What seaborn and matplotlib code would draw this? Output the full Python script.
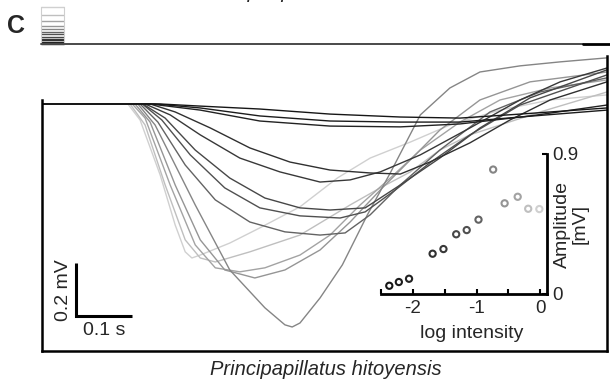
import pandas as pd
import seaborn as sns
import matplotlib.pyplot as plt
from matplotlib.lines import Line2D

# ERG traces: (time in ms, voltage in mV), dimmest flash first
trace_01 = [(0, 0), (212, 0), (284, -0.008), (391, -0.019), (517, -0.038), (643, -0.049),
            (750, -0.053), (858, -0.038), (1014, -0.015)]
trace_02 = [(0, 0), (203, 0), (284, -0.015), (391, -0.045), (517, -0.064), (643, -0.068),
            (750, -0.068), (858, -0.049), (1014, -0.023)]
trace_03 = [(0, 0), (194, 0), (284, -0.023), (391, -0.064), (517, -0.083), (643, -0.086),
            (750, -0.075), (876, -0.045), (1014, -0.004)]
trace_04 = [(0, 0), (194, 0), (239, -0.030), (302, -0.090), (373, -0.165), (445, -0.218),
            (517, -0.248), (589, -0.259), (643, -0.263), (696, -0.218), (768, -0.146),
            (840, -0.060), (912, 0.015), (1014, 0.083)]
trace_05 = [(0, 0), (185, 0), (230, -0.041), (284, -0.116), (355, -0.203), (427, -0.255),
            (499, -0.293), (553, -0.285), (607, -0.255), (679, -0.191), (768, -0.090),
            (858, 0.015), (930, 0.083), (1014, 0.135)]
trace_06 = [(0, 0), (181, 0), (221, -0.053), (275, -0.173), (337, -0.278), (400, -0.353),
            (463, -0.390), (517, -0.398), (580, -0.390), (643, -0.304), (714, -0.203),
            (786, -0.090), (876, 0.023), (1014, 0.128)]
trace_07 = [(0, 0), (180, 0), (215, -0.060), (266, -0.191), (328, -0.315), (391, -0.390),
            (463, -0.420), (535, -0.428), (580, -0.405), (634, -0.323), (696, -0.221),
            (768, -0.116), (858, -0.004), (1014, 0.109)]
trace_08 = [(0, 0), (176, 0), (208, -0.068), (257, -0.229), (311, -0.360), (373, -0.443),
            (436, -0.480), (499, -0.492), (544, -0.484), (589, -0.416), (643, -0.304),
            (714, -0.173), (804, -0.030), (894, 0.045), (1014, 0.098)]
trace_09 = [(0, 0), (172, 0), (203, -0.079), (239, -0.229), (275, -0.379), (337, -0.623),
            (400, -0.765), (436, -0.829), (449, -0.837), (463, -0.822), (499, -0.728),
            (539, -0.604), (584, -0.416), (625, -0.259), (679, -0.041), (732, 0.060),
            (786, 0.120), (858, 0.143), (930, 0.158), (1014, 0.173)]
trace_10 = [(0, 0), (167, 0), (194, -0.068), (239, -0.304), (284, -0.510), (328, -0.623),
            (382, -0.653), (436, -0.623), (499, -0.548), (553, -0.443), (607, -0.323),
            (661, -0.210), (714, -0.098), (786, 0.015), (876, 0.083), (1014, 0.120)]
trace_11 = [(0, 0), (162, 0), (185, -0.053), (230, -0.304), (275, -0.529), (311, -0.615),
            (355, -0.630), (400, -0.615), (463, -0.567), (517, -0.492), (571, -0.379),
            (625, -0.278), (679, -0.173), (750, -0.068), (822, 0.015), (912, 0.060), (1014, 0.090)]
trace_12 = [(0, 0), (158, 0), (185, -0.079), (221, -0.304), (257, -0.510), (284, -0.578),
            (311, -0.593), (373, -0.555), (463, -0.492), (553, -0.379), (607, -0.315),
            (661, -0.255), (714, -0.173), (768, -0.116), (894, -0.030), (1014, 0.045)]
trace_13 = [(0, 0), (154, 0), (176, -0.060), (212, -0.266), (239, -0.454), (257, -0.555),
            (269, -0.578), (284, -0.567), (337, -0.522), (391, -0.465), (463, -0.386),
            (530, -0.278), (589, -0.203), (661, -0.143), (732, -0.079), (822, -0.023),
            (912, 0.015), (1014, 0.034)]

trace_colors = ["#161616", "#1c1c1c", "#222222", "#303030", "#383838", "#474747", "#505050",
                "#636363", "#858585", "#959595", "#a3a3a3", "#bfbfbf", "#d0d0d0"]

# inset: response amplitude vs flash intensity
log_intensity = [-2.37, -2.22, -2.06, -1.69, -1.52, -1.32, -1.155, -0.97, -0.74, -0.56,
                 -0.355, -0.19, -0.015]
amplitude = [0.053, 0.077, 0.098, 0.259, 0.289, 0.384, 0.411, 0.478, 0.80, 0.583, 0.625,
             0.548, 0.546]

# stimulus legend stripes, bottom (dim) to top (bright)
icon_steps = [0, 0.03, 0.06, 0.11, 0.15, 0.20, 0.27, 0.33, 0.40, 0.49, 0.62, 0.78, 1.0]

sns.set_style("white")
plt.rcParams["font.family"] = ["Liberation Sans", "DejaVu Sans"]
plt.rcParams["axes.unicode_minus"] = False

W, H = 610, 383
fig = plt.figure(figsize=(W / 100, H / 100), dpi=100)


def px_box(x0, y0, x1, y1):
    return [x0 / W, 1 - y1 / H, (x1 - x0) / W, (y1 - y0) / H]


# main panel with the traces
ax = fig.add_axes(px_box(42, 56, 607, 350.7))
traces = [trace_01, trace_02, trace_03, trace_04, trace_05, trace_06, trace_07,
          trace_08, trace_09, trace_10, trace_11, trace_12, trace_13]
rows = [(i, t, v) for i, tr in enumerate(traces) for t, v in tr]
df = pd.DataFrame(rows, columns=["trace", "t", "v"])
palette = {i: c for i, c in enumerate(trace_colors)}
sns.lineplot(data=df, x="t", y="v", hue="trace", palette=palette,
             hue_order=list(range(len(traces) - 1, -1, -1)), estimator=None,
             sort=False, legend=False, lw=1.0, ax=ax)
ax.set_xlim(0, 1014)
ax.set_ylim(-0.926, 0.180)
ax.set_xticks([])
ax.set_yticks([])
ax.set_xlabel("")
ax.set_ylabel("")
ax.spines["top"].set_visible(False)
for side in ["left", "right", "bottom"]:
    ax.spines[side].set_linewidth(1.8)
    ax.spines[side].set_color("black")
ax.spines["left"].set_bounds(-0.926, 0.015)

# scale bar
t0, v0 = 61, -0.795
ax.plot([t0, t0, t0 + 100], [v0 + 0.2, v0, v0], color="black", lw=2.2,
        solid_capstyle="butt", solid_joinstyle="miter")
ax.text(t0 - 22, v0 + 0.095, "0.2 mV", rotation=90, ha="center", va="center", fontsize=14)
ax.text(t0 + 51, v0 - 0.055, "0.1 s", ha="center", va="center", fontsize=14)

# inset
ax_in = fig.add_axes(px_box(381, 154, 547, 294))
ax_in.patch.set_alpha(0)
sns.scatterplot(x=log_intensity, y=amplitude, hue=list(range(len(amplitude))),
                palette=palette, legend=False, s=20, linewidth=1.5, ax=ax_in)
pts = ax_in.collections[0]
pts.set_edgecolors(pts.get_facecolors())
pts.set_facecolors("none")
ax_in.set_xlim(-2.5, 0.105)
ax_in.set_ylim(0, 0.9)
ax_in.spines["left"].set_visible(False)
ax_in.spines["top"].set_visible(False)
for side in ["right", "bottom"]:
    ax_in.spines[side].set_linewidth(2.0)
    ax_in.spines[side].set_color("black")
ax_in.set_xticks([-2, -1, 0])
ax_in.set_xticklabels(["-2", "-1", "0"])
ax_in.set_xticks([-2.5, -1.5, -0.5], minor=True)
ax_in.set_yticks([0, 0.9])
ax_in.set_yticklabels(["0", "0.9"])
ax_in.tick_params(axis="x", which="both", direction="in", length=3.6, width=1.5,
                  pad=4, labelsize=13.5, bottom=True, color="black")
ax_in.tick_params(axis="y", which="both", direction="in", length=3.6, width=1.5,
                  pad=4, labelsize=13.5, left=False, labelleft=False, right=True,
                  labelright=True, color="black")
ax_in.set_xlabel("")
ax_in.set_ylabel("")
ax_in.text((472 - 381) / 166, -0.279, "log intensity", transform=ax_in.transAxes,
           ha="center", va="center", fontsize=14)
ax_in.text((571 - 381) / 166, 0.5, "Amplitude\n[mV]", transform=ax_in.transAxes,
           rotation=90, ha="center", va="center", multialignment="center",
           linespacing=1.05, fontsize=14)

# header: stimulus stripes and line
ax_icon = fig.add_axes(px_box(41, 7, 64, 44.3))
ax_icon.hlines(icon_steps, 0, 1, colors=trace_colors, lw=1.0, clip_on=False)
ax_icon.set_xlim(0, 1)
ax_icon.set_ylim(0, 1)
ax_icon.set_xticks([])
ax_icon.set_yticks([])
for side in ["top", "bottom"]:
    ax_icon.spines[side].set_visible(False)
for side in ["left", "right"]:
    ax_icon.spines[side].set_color("#cfcfcf")
    ax_icon.spines[side].set_linewidth(0.8)
ax_icon.patch.set_alpha(0)

fig.add_artist(Line2D([41 / W, 583 / W], [1 - 44.3 / H] * 2, color="#4a4a4a", lw=1.4))
fig.add_artist(Line2D([583 / W, 1], [1 - 44.3 / H] * 2, color="black", lw=2.0))

fig.text(7 / W, 1 - 33 / H, "C", fontsize=18, fontweight="bold", ha="left", va="baseline")
fig.text(322 / W, 1 + 1.5 / H, "Euperipatoides rowelli", style="italic", fontsize=14.5,
         ha="center", va="baseline")
fig.text(326 / W, 1 - 375 / H, "Principapillatus hitoyensis", style="italic",
         fontsize=14.5, ha="center", va="baseline")

fig.savefig("out.png", dpi=100)
